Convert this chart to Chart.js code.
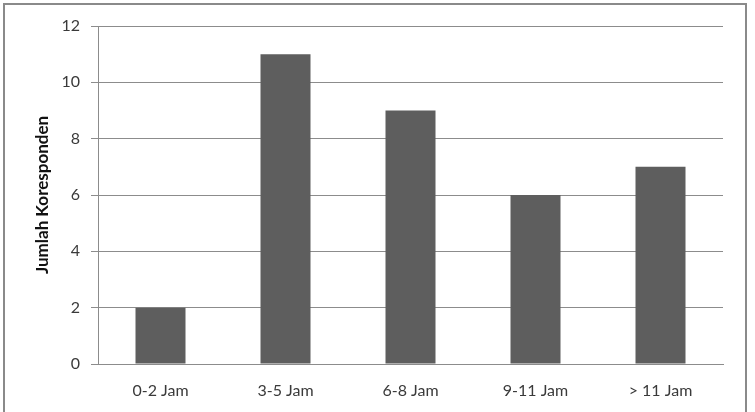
<!DOCTYPE html>
<html>
<head>
<meta charset="utf-8">
<script src="https://cdn.jsdelivr.net/npm/chart.js"></script>
<style>
    html, body { margin: 0; padding: 0; background: #fff; }
    #wrap { position: relative; width: 755px; height: 412px; overflow: hidden; }
    #frame { position: absolute; left: 3px; top: 3px; width: 740px; height: 420px; border: 2px solid #8a8a8a; }
    canvas { position: absolute; left: 0; top: 0; }
</style>
</head>
<body>
<div id="wrap">
    <div id="frame"></div>
    <canvas id="jamChart" width="755" height="412"></canvas>
</div>
<script>
// Jumlah koresponden per kelompok jam
const categories = ['0-2 Jam', '3-5 Jam', '6-8 Jam', '9-11 Jam', '> 11 Jam'];
const respondents = [2, 11, 9, 6, 7];
const yTicks = [0, 2, 4, 6, 8, 10, 12];

const fontFamily = 'Lato, "Open Sans", sans-serif';

new Chart(document.getElementById('jamChart'), {
    type: 'bar',
    data: {
        labels: categories,
        datasets: [{
            label: 'Jumlah Koresponden',
            data: respondents,
            backgroundColor: '#5e5e5e',
            borderWidth: 0,
            categoryPercentage: 1,
            barPercentage: 0.4
        }]
    },
    options: {
        responsive: false,
        animation: false,
        layout: { padding: { left: 0, top: 26, right: 32, bottom: 0 } },
        plugins: {
            legend: { display: false },
            tooltip: { enabled: false }
        },
        scales: {
            y: {
                min: 0,
                max: 12,
                afterBuildTicks: (scale) => {
                    scale.ticks = yTicks.map(v => ({ value: v }));
                },
                afterFit: (scale) => { scale.width = 98; },
                grid: { color: '#8c8c8c', lineWidth: 1, tickLength: 7 },
                border: { color: '#8c8c8c' },
                ticks: {
                    color: '#3a3a3a',
                    padding: 11,
                    font: { family: fontFamily, size: 16 }
                },
                title: {
                    display: true,
                    text: 'Jumlah Koresponden',
                    color: '#111',
                    padding: { top: 32, bottom: 0 },
                    font: { family: fontFamily, size: 17, weight: 'bold' }
                }
            },
            x: {
                afterFit: (scale) => { scale.height = 48; },
                grid: { display: false, drawTicks: false },
                border: { color: '#8c8c8c' },
                ticks: {
                    color: '#3a3a3a',
                    padding: 17,
                    font: { family: fontFamily, size: 16 }
                }
            }
        }
    }
});
</script>
</body>
</html>
